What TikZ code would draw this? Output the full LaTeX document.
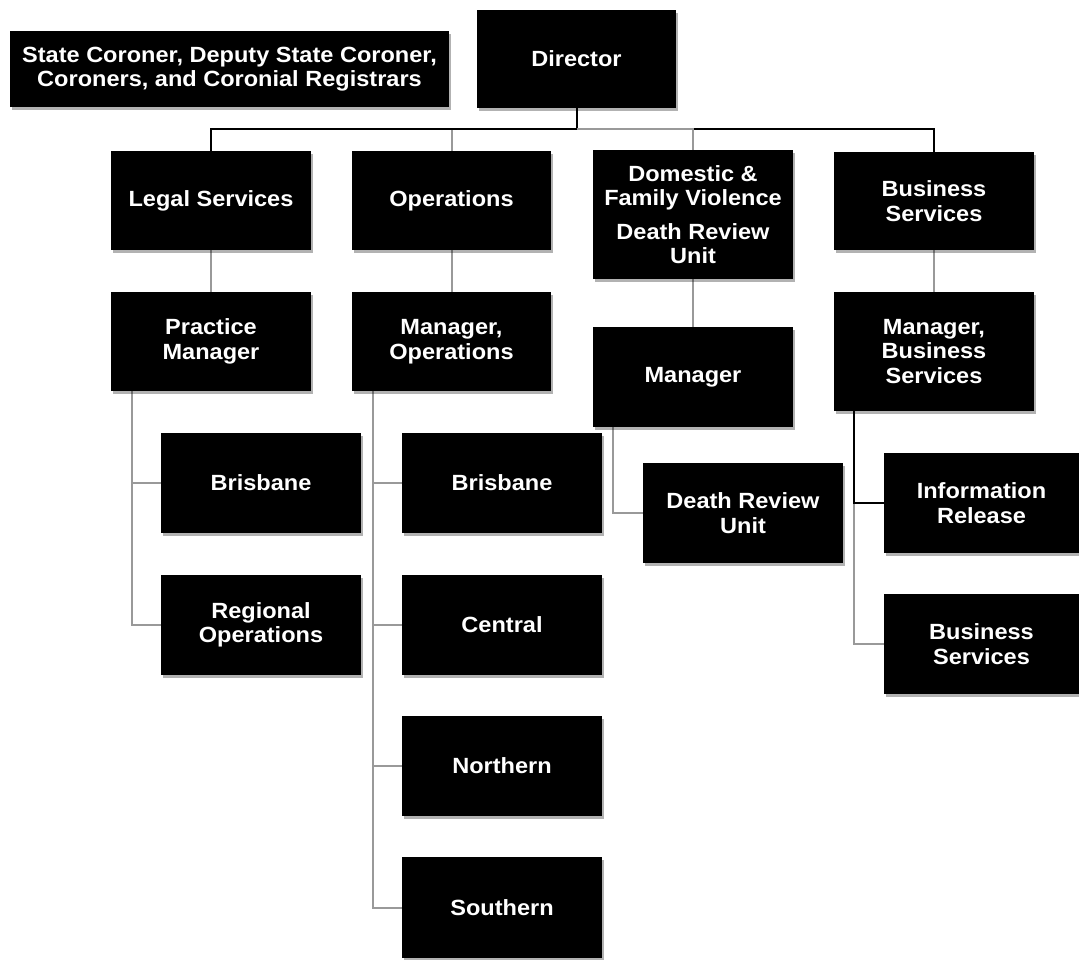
\documentclass[tikz,border=0pt]{standalone}
\usepackage{fontspec}
\setmainfont{Liberation Sans}[FakeStretch=1.07]
\usetikzlibrary{shadows,backgrounds}
\definecolor{linkgrey}{HTML}{999999}
\begin{document}
\begin{tikzpicture}[x=1pt,y=-1pt,
  unitbox/.style={fill=black, text=white, inner sep=0pt,
    font=\fontsize{22}{24.5}\selectfont\bfseries, align=center,
    drop shadow={shadow xshift=2pt, shadow yshift=-3pt, opacity=0.3, fill=black}},
  blackline/.style={draw=black, line width=2pt},
  greyline/.style={draw=linkgrey, line width=2pt}]
\useasboundingbox (0,0) rectangle (1079,959);
% box macro: name, left, top, right, bottom, text
\newcommand\orgbox[6]{%
  \node[unitbox, minimum width={#4-#2}, minimum height={#5-#3}]
    (#1) at ({(#2+#4)/2},{(#3+#5)/2}) {#6};}

% boxes
\orgbox{coroners}{10}{31}{449}{107}{State Coroner, Deputy State Coroner,\\Coroners, and Coronial Registrars}
\orgbox{director}{477}{10}{676}{108}{Director}
\orgbox{legal}{111}{151}{311}{250}{Legal Services}
\orgbox{ops}{352}{151}{551}{250}{Operations}
\orgbox{dfv}{593}{150}{793}{279}{Domestic \&\\Family Violence\\[9pt]Death Review\\Unit}
\orgbox{bus}{834}{152}{1034}{250}{Business\\Services}
\orgbox{practice}{111}{292}{311}{391}{Practice\\Manager}
\orgbox{mgrops}{352}{292}{551}{391}{Manager,\\Operations}
\orgbox{mgrdfv}{593}{327}{793}{427}{Manager}
\orgbox{mgrbus}{834}{292}{1034}{411}{Manager,\\Business\\Services}
\orgbox{legbris}{161}{433}{361}{533}{Brisbane}
\orgbox{regional}{161}{575}{361}{675}{Regional\\Operations}
\orgbox{opsbris}{402}{433}{602}{533}{Brisbane}
\orgbox{central}{402}{575}{602}{675}{Central}
\orgbox{northern}{402}{716}{602}{816}{Northern}
\orgbox{southern}{402}{857}{602}{958}{Southern}
\orgbox{dru}{643}{463}{843}{563}{Death Review\\Unit}
\orgbox{info}{884}{453}{1079}{553}{Information\\Release}
\orgbox{bussub}{884}{594}{1079}{694}{Business\\Services}

\begin{scope}[on background layer]
% director to the four divisions
\path (director.south) ++(0,21) coordinate (busline);
\draw[greyline] (busline) -| (ops.north);
\draw[blackline] (director.south) -- (busline) -| (legal.north);
\draw[blackline] (busline) -| (bus.north);
\draw[greyline] (busline) -| (dfv.north);

% division to manager links
\draw[greyline] (legal.south) -- (practice.north);
\draw[greyline] (ops.south) -- (mgrops.north);
\draw[greyline] (dfv.south) -- (mgrdfv.north);
\draw[greyline] (bus.south) -- (mgrbus.north);

% Legal Services branches
\draw[greyline] ([xshift=21pt]practice.south west) |- (regional.west);
\draw[greyline] ([xshift=21pt]practice.south west) |- (legbris.west);
% Operations branches
\foreach \unit in {southern,northern,central,opsbris}
  \draw[greyline] ([xshift=21pt]mgrops.south west) |- (\unit.west);
% DFV branch
\draw[greyline] ([xshift=20pt]mgrdfv.south west) |- (dru.west);
% Business Services branches
\draw[greyline] ([xshift=20pt]mgrbus.south west) |- (bussub.west);
\draw[blackline] ([xshift=20pt]mgrbus.south west) |- (info.west);
\end{scope}
\end{tikzpicture}
\end{document}
